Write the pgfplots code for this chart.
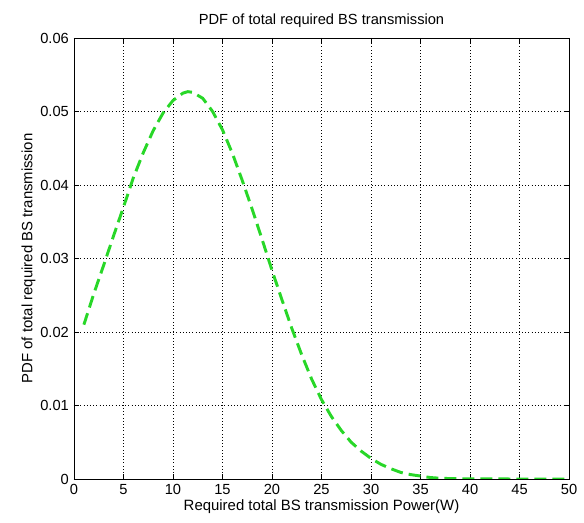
\documentclass[border=0pt]{standalone}
\usepackage{pgfplots}
\pgfplotsset{compat=1.18}
\usepackage{fontspec}
\setmainfont{Liberation Sans}
\definecolor{mgreen}{RGB}{40,215,40}

\begin{document}
\begin{tikzpicture}
\fontsize{11}{13}\selectfont
\begin{axis}[
  name=ax,
  scale only axis,
  width=371.25pt, height=330.75pt,
  xmin=0, xmax=50, ymin=0, ymax=0.06,
  xtick={0,5,...,50},
  ytick={0,0.01,0.02,0.03,0.04,0.05,0.06},
  yticklabels={0,0.01,0.02,0.03,0.04,0.05,0.06},
  scaled y ticks=false,
  tick align=inside,
  major tick length=4pt,
  tick style={black, line width=0.5pt},
  axis line style={black, line width=0.6pt},
  grid=major,
  grid style={black, dotted, line width=0.6pt},
  /pgf/number format/assume math mode=true,
  ticklabel style={font=\fontsize{11}{13}\selectfont},
  title={PDF of total required BS transmission},
  title style={font=\fontsize{11}{13}\selectfont, yshift=-2pt},
  xlabel={Required total BS transmission Power(W)},
  ylabel={PDF of total required BS transmission},
  label style={font=\fontsize{11.2}{13}\selectfont},
  xlabel style={yshift=4pt},
  ylabel style={yshift=-4pt},
]
\addplot[mgreen, line width=2.2pt, dash pattern=on 9pt off 4.5pt] coordinates {
  (1,0.0210)(2,0.0252)(3,0.0291)(4,0.0331)(5,0.0370)(6,0.0410)
  (7,0.0444)(8,0.0474)(9,0.0498)(10,0.0515)(11,0.0525)(11.5,0.0527)
  (12,0.0526)(13,0.0518)(14,0.0500)(15,0.0475)(16,0.0443)(17,0.0406)
  (18,0.0367)(19,0.0326)(20,0.0284)(21,0.0244)(22,0.0205)(23,0.0169)
  (24,0.0136)(25,0.0108)(26,0.0085)(27,0.0066)(28,0.0050)(29,0.0038)
  (30,0.0028)(31,0.0020)(32,0.0014)(33,0.0009)(34,0.0006)(35,0.0004)
  (36,0.0002)(37,0.0001)(38,0.00006)(40,0.00002)(45,0)(50,0)
};
\end{axis}
\path (ax.south west) ++(-55.5pt,-33pt) coordinate (bl);
\path (ax.north east) ++(11.25pt,28.5pt) coordinate (tr);
\useasboundingbox (bl) rectangle (tr);
\end{tikzpicture}
\end{document}
